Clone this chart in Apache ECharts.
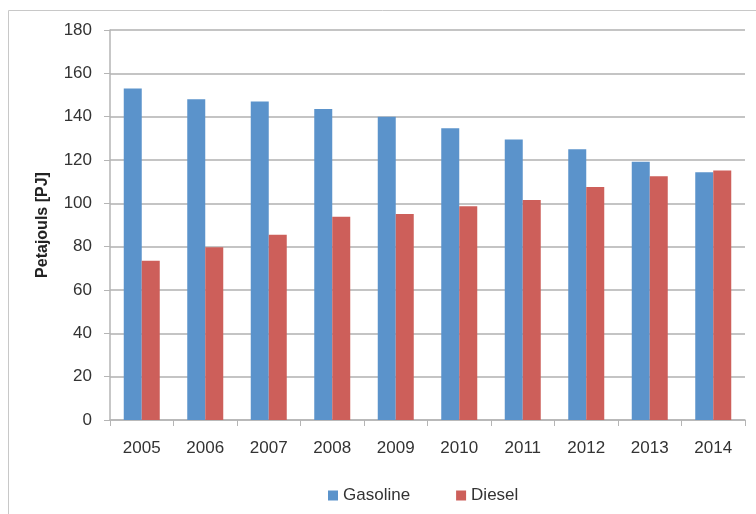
<!DOCTYPE html>
<html><head><meta charset="utf-8">
<script src="https://cdn.jsdelivr.net/npm/echarts@6/dist/echarts.min.js"></script>
<style>html,body{margin:0;padding:0;background:#fff}#c{width:756px;height:514px}</style>
</head><body><div id="c"></div>
<script>
const years = ['2005','2006','2007','2008','2009','2010','2011','2012','2013','2014'];
const gasoline = [153, 148, 147, 143.5, 140, 134.6, 129.5, 125, 119.2, 114.3];
const diesel = [73.5, 79.7, 85.5, 93.8, 95.1, 98.6, 101.5, 107.5, 112.5, 115.2];
const yTicks = {min: 0, max: 180, interval: 20};
const seriesNames = ['Gasoline', 'Diesel'];

const chart = echarts.init(document.getElementById('c'), null, {renderer: 'canvas'});
const font = 'Liberation Sans, Arial, sans-serif';
chart.setOption({
  animation: false,
  graphic: [{type: 'rect', shape: {x: 8.5, y: 10.5, width: 760, height: 520}, style: {fill: 'none', stroke: '#c8c8c8', lineWidth: 1}, silent: true}],
  grid: {left: 110, right: 11, top: 30, bottom: 94, containLabel: false},
  legend: {
    data: seriesNames, bottom: 5, left: 323, itemWidth: 10, itemHeight: 10, itemGap: 46,
    icon: 'rect', textStyle: {fontFamily: font, fontSize: 17, color: '#333'}
  },
  xAxis: {
    type: 'category', data: years,
    axisLine: {lineStyle: {color: '#b5b5b5', width: 1.5}},
    axisTick: {show: true, alignWithLabel: false, length: 6, lineStyle: {color: '#b5b5b5'}},
    axisLabel: {fontFamily: font, fontSize: 17, color: '#333', margin: 20}
  },
  yAxis: {
    type: 'value', min: yTicks.min, max: yTicks.max, interval: yTicks.interval,
    name: 'Petajouls [PJ]', nameLocation: 'middle', nameGap: 59,
    nameTextStyle: {fontFamily: font, fontSize: 16, fontWeight: 'bold', color: '#222'},
    axisLine: {show: true, lineStyle: {color: '#b5b5b5', width: 1.5}},
    axisTick: {show: true, length: 6, lineStyle: {color: '#b5b5b5'}},
    axisLabel: {fontFamily: font, fontSize: 17, color: '#333', margin: 18},
    splitLine: {lineStyle: {color: '#b0b0b0', width: 1.5}}
  },
  series: [
    {name: seriesNames[0], type: 'bar', data: gasoline, barWidth: 18, barGap: '0%', itemStyle: {color: '#5b93cb'}},
    {name: seriesNames[1], type: 'bar', data: diesel, barWidth: 18, barGap: '0%', itemStyle: {color: '#cd5f5a'}}
  ]
});
</script></body></html>
